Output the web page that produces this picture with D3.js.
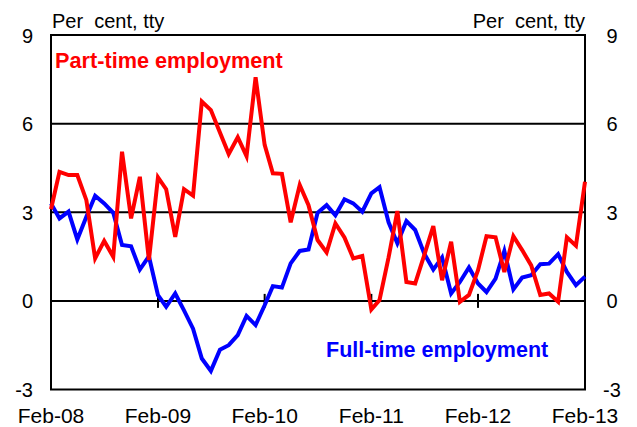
<!DOCTYPE html>
<html>
<head>
<meta charset="utf-8">
<script src="https://cdn.jsdelivr.net/npm/d3@7"></script>
<style>
  body { margin: 0; background: #fff; }
  text { font-family: "Liberation Sans", Arial, sans-serif; }
</style>
</head>
<body>
<div id="chart"></div>
<script>
// monthly, Feb-08 .. Feb-13
var months = d3.timeMonth.range(new Date(2008, 1, 1), new Date(2013, 2, 1));

var partTime = [3.1, 4.37, 4.26, 4.26, 3.41, 1.44, 2.03, 1.49, 5.05, 2.79, 4.2, 1.38,
  4.18, 3.78, 2.17, 3.78, 3.56, 6.75, 6.46, 5.7, 4.97, 5.54, 4.9, 7.57,
  5.28, 4.32, 4.3, 2.66, 3.92, 3.24, 2.06, 1.64, 2.62, 2.15, 1.44, 1.52,
  -0.29, 0.03, 1.47, 3.04, 0.64, 0.59, 1.55, 2.53, 0.7, 2.0, -0.03, 0.2,
  1.04, 2.19, 2.15, 0.98, 2.19, 1.72, 1.2, 0.2, 0.25, -0.03, 2.15, 1.87,
  4.03];

var fullTime = [3.3, 2.79, 3.02, 2.08, 2.85, 3.56, 3.3, 2.98, 1.89, 1.85, 1.06, 1.51,
  0.19, -0.2, 0.25, -0.32, -0.94, -1.95, -2.37, -1.65, -1.5, -1.16, -0.51, -0.82,
  -0.15, 0.5, 0.45, 1.27, 1.69, 1.74, 2.98, 3.24, 2.9, 3.44, 3.3, 3.02,
  3.64, 3.85, 2.66, 1.95, 2.7, 2.4, 1.6, 1.06, 1.47, 0.25, 0.64, 1.13,
  0.59, 0.3, 0.75, 1.69, 0.39, 0.79, 0.87, 1.24, 1.26, 1.58, 0.98, 0.53,
  0.82];

var xTickLabels = ["Feb-08", "Feb-09", "Feb-10", "Feb-11", "Feb-12", "Feb-13"];
var yTicks = [-3, 0, 3, 6, 9];

var svgWidth = 637;
var svgHeight = 427;
var margin = { left: 51, right: 52, top: 35, bottom: 37.5 };
var width = svgWidth - margin.left - margin.right;
var height = svgHeight - margin.top - margin.bottom;

var svg = d3.select("#chart")
  .append("svg")
  .attr("width", svgWidth)
  .attr("height", svgHeight);

var chartGroup = svg.append("g")
  .attr("transform", `translate(${margin.left}, ${margin.top})`);

var xScale = d3.scaleTime()
  .domain([months[0], months[months.length - 1]])
  .range([0, width]);

var yScale = d3.scaleLinear()
  .domain([-3, 9])
  .range([height, 0]);

var xTickDates = xTickLabels.map((d, i) => months[i * 12]);

// horizontal grid lines
chartGroup.selectAll(".grid")
  .data(yTicks.filter(d => d > -3 && d < 9))
  .enter()
  .append("line")
  .attr("x1", 0)
  .attr("x2", width)
  .attr("y1", d => yScale(d))
  .attr("y2", d => yScale(d))
  .attr("stroke", "#000")
  .attr("stroke-width", 2);

// frame
chartGroup.append("rect")
  .attr("width", width)
  .attr("height", height)
  .attr("fill", "none")
  .attr("stroke", "#000")
  .attr("stroke-width", 2);

// ticks crossing the zero line
chartGroup.selectAll(".xtick")
  .data(xTickDates)
  .enter()
  .append("line")
  .attr("x1", d => xScale(d))
  .attr("x2", d => xScale(d))
  .attr("y1", yScale(0) - 7)
  .attr("y2", yScale(0) + 7)
  .attr("stroke", "#000")
  .attr("stroke-width", 2);

// x labels
chartGroup.selectAll(".xlab")
  .data(xTickDates)
  .enter()
  .append("text")
  .attr("x", d => xScale(d))
  .attr("y", height + 33.5)
  .attr("text-anchor", "middle")
  .attr("font-size", "21px")
  .attr("fill", "#000")
  .text((d, i) => xTickLabels[i]);

// y labels, both sides
chartGroup.selectAll(".ylabL")
  .data(yTicks)
  .enter()
  .append("text")
  .attr("x", -18)
  .attr("y", d => yScale(d) + 7.5)
  .attr("text-anchor", "end")
  .attr("font-size", "20px")
  .text(d => d);

chartGroup.selectAll(".ylabR")
  .data(yTicks)
  .enter()
  .append("text")
  .attr("x", width + 27)
  .attr("y", d => yScale(d) + 7.5)
  .attr("text-anchor", "middle")
  .attr("font-size", "20px")
  .text(d => d);

svg.append("text")
  .attr("x", 52)
  .attr("y", 28)
  .attr("font-size", "20px")
  .style("white-space", "pre")
  .text("Per  cent, tty");

svg.append("text")
  .attr("x", 585)
  .attr("y", 28)
  .attr("text-anchor", "end")
  .attr("font-size", "20px")
  .style("white-space", "pre")
  .text("Per  cent, tty");

var line = d3.line()
  .x((d, i) => xScale(months[i]))
  .y(d => yScale(d));

chartGroup.append("path")
  .datum(fullTime)
  .attr("d", line)
  .attr("fill", "none")
  .attr("stroke", "#0000ff")
  .attr("stroke-width", 4)
  .attr("stroke-linejoin", "miter");

chartGroup.append("path")
  .datum(partTime)
  .attr("d", line)
  .attr("fill", "none")
  .attr("stroke", "#ff0000")
  .attr("stroke-width", 4)
  .attr("stroke-linejoin", "miter");

svg.append("text")
  .attr("x", 55)
  .attr("y", 68)
  .attr("font-size", "21.7px")
  .attr("font-weight", "bold")
  .attr("fill", "#ff0000")
  .text("Part-time employment");

svg.append("text")
  .attr("x", 326)
  .attr("y", 357)
  .attr("font-size", "21.5px")
  .attr("font-weight", "bold")
  .attr("fill", "#0000ff")
  .text("Full-time employment");
</script>
</body>
</html>
